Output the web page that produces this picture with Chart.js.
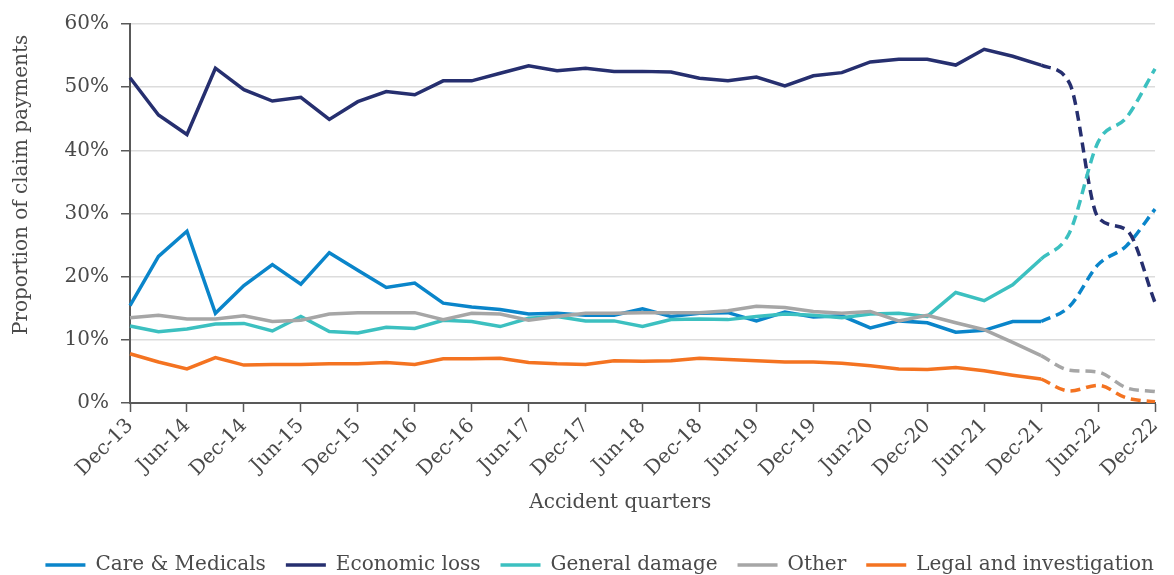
<!DOCTYPE html>
<html>
<head>
<meta charset="utf-8">
<script src="https://cdn.jsdelivr.net/npm/chart.js@4"></script>
<style>
  body { margin: 0; background: #fff; overflow: hidden; }
  #wrap { width: 1174px; height: 575px; position: relative; }
</style>
</head>
<body>
<div id="wrap"><canvas id="myChart"></canvas></div>
<script>
const quarters = ['Dec-13','Mar-14','Jun-14','Sep-14','Dec-14','Mar-15','Jun-15','Sep-15','Dec-15','Mar-16','Jun-16','Sep-16',
  'Dec-16','Mar-17','Jun-17','Sep-17','Dec-17','Mar-18','Jun-18','Sep-18','Dec-18','Mar-19','Jun-19','Sep-19',
  'Dec-19','Mar-20','Jun-20','Sep-20','Dec-20','Mar-21','Jun-21','Sep-21','Dec-21','Mar-22','Jun-22','Sep-22','Dec-22'];

const careMedicals = [15.4,23.2,27.2,14.2,18.6,21.9,18.8,23.8,21.0,18.3,19.0,15.8,15.2,14.8,14.1,14.2,13.9,13.9,14.9,13.7,
  14.2,14.3,13.0,14.4,13.6,13.8,11.9,13.0,12.7,11.2,11.5,12.9,12.9,15.3,21.9,24.9,30.7];
const economicLoss = [51.5,45.6,42.5,53.0,49.6,47.8,48.4,44.9,47.7,49.3,48.8,51.0,51.0,52.2,53.4,52.6,53.0,52.5,52.5,52.4,
  51.4,51.0,51.6,50.2,51.8,52.3,54.0,54.4,54.4,53.5,56.0,54.9,53.5,50.6,29.4,27.4,15.9];
const generalDamage = [12.2,11.3,11.7,12.5,12.6,11.4,13.7,11.3,11.1,12.0,11.8,13.1,12.9,12.1,13.4,13.7,13.0,13.0,12.1,13.2,
  13.3,13.2,13.7,14.1,13.9,13.5,14.1,14.2,13.7,17.5,16.2,18.7,22.8,27.0,41.3,45.2,52.9];
const other = [13.5,13.9,13.3,13.3,13.8,12.9,13.1,14.1,14.3,14.3,14.3,13.2,14.2,14.1,13.1,13.7,14.2,14.2,14.3,14.3,
  14.3,14.6,15.3,15.1,14.5,14.2,14.5,13.0,13.9,12.7,11.6,9.6,7.5,5.2,4.9,2.4,1.8];
const legalInvestigation = [7.8,6.5,5.4,7.2,6.0,6.1,6.1,6.2,6.2,6.4,6.1,7.0,7.0,7.1,6.4,6.2,6.1,6.7,6.6,6.7,
  7.1,6.9,6.7,6.5,6.5,6.3,5.9,5.4,5.3,5.6,5.1,4.4,3.8,1.9,2.8,0.8,0.2];

const yTicks = [0, 10, 20, 30, 40, 50, 60];
const forecastFrom = 32; // Dec-21 onwards is dashed

const series = [
  { name: 'Care & Medicals', values: careMedicals, color: '#0a85ca' },
  { name: 'Economic loss', values: economicLoss, color: '#262f6f' },
  { name: 'General damage', values: generalDamage, color: '#3cc0c0' },
  { name: 'Other', values: other, color: '#a6a6a6' },
  { name: 'Legal and investigation', values: legalInvestigation, color: '#f47321' }
];

const datasets = [];
series.forEach((s, k) => {
  datasets.push({
    label: s.name,
    data: s.values.map((v, i) => i <= forecastFrom ? v : null),
    borderColor: s.color, backgroundColor: s.color,
    borderWidth: 3.5, pointRadius: 0, tension: 0,
    order: 10 - k
  });
  datasets.push({
    label: s.name, forecast: true,
    data: s.values.map((v, i) => i >= forecastFrom ? v : null),
    borderColor: s.color, backgroundColor: s.color,
    borderWidth: 3.5, pointRadius: 0, borderDash: [10, 6],
    cubicInterpolationMode: 'monotone',
    order: 10 - k
  });
});

const fontFamily = '"DejaVu Serif", serif';
const textColor = '#4a4a4a';
const axisColor = '#595959';

new Chart(document.getElementById('myChart').getContext('2d'), {
  type: 'line',
  data: { labels: quarters, datasets: datasets },
  options: {
    responsive: true,
    maintainAspectRatio: false,
    animation: false,
    layout: { padding: { top: 24, right: 0, left: 0, bottom: -10 } },
    plugins: {
      tooltip: { enabled: false },
      legend: {
        position: 'bottom',
        align: 'end',
        labels: {
          usePointStyle: true,
          pointStyle: 'line',
          pointStyleWidth: 40,
          padding: 20,
          color: textColor,
          font: { family: fontFamily, size: 20 },
          filter: (item, data) => !data.datasets[item.datasetIndex].forecast,
          sort: (a, b) => a.datasetIndex - b.datasetIndex
        }
      }
    },
    scales: {
      x: {
        ticks: {
          autoSkip: false,
          minRotation: 45, maxRotation: 45,
          color: textColor,
          font: { family: fontFamily, size: 20 },
          padding: 2,
          callback: function (value, index) { return index % 2 === 0 ? this.getLabelForValue(value) : ''; }
        },
        grid: {
          drawOnChartArea: false,
          tickLength: 9,
          tickWidth: 1.5,
          tickColor: ctx => ctx.index % 2 === 0 ? axisColor : 'rgba(0,0,0,0)'
        },
        border: { color: axisColor, width: 2 },
        title: {
          display: true,
          text: 'Accident quarters' + '\u00a0'.repeat(7),
          color: textColor,
          font: { family: fontFamily, size: 20 },
          padding: { top: 4, bottom: 20 }
        },
        afterFit: scale => { scale.height = 132; }
      },
      y: {
        min: 0, max: 60,
        afterBuildTicks: scale => { scale.ticks = yTicks.map(v => ({ value: v })); },
        ticks: {
          color: textColor,
          font: { family: fontFamily, size: 20 },
          padding: 12,
          callback: v => v + '%'
        },
        grid: { color: '#dcdcdc', lineWidth: 1.5, tickLength: 9, tickColor: axisColor, tickWidth: 1.5 },
        border: { color: axisColor, width: 2 },
        title: {
          display: true,
          text: '\u00a0'.repeat(9) + 'Proportion of claim payments',
          color: textColor,
          font: { family: fontFamily, size: 20 },
          padding: { top: 10, bottom: 4 }
        },
        afterFit: scale => { scale.width = 130; }
      },
      // empty right-hand gutter so the plot ends where the reference does
      gutter: {
        type: 'linear',
        position: 'right',
        ticks: { display: false },
        grid: { display: false },
        border: { display: false },
        afterFit: scale => { scale.width = 17; }
      }
    }
  }
});
</script>
</body>
</html>
